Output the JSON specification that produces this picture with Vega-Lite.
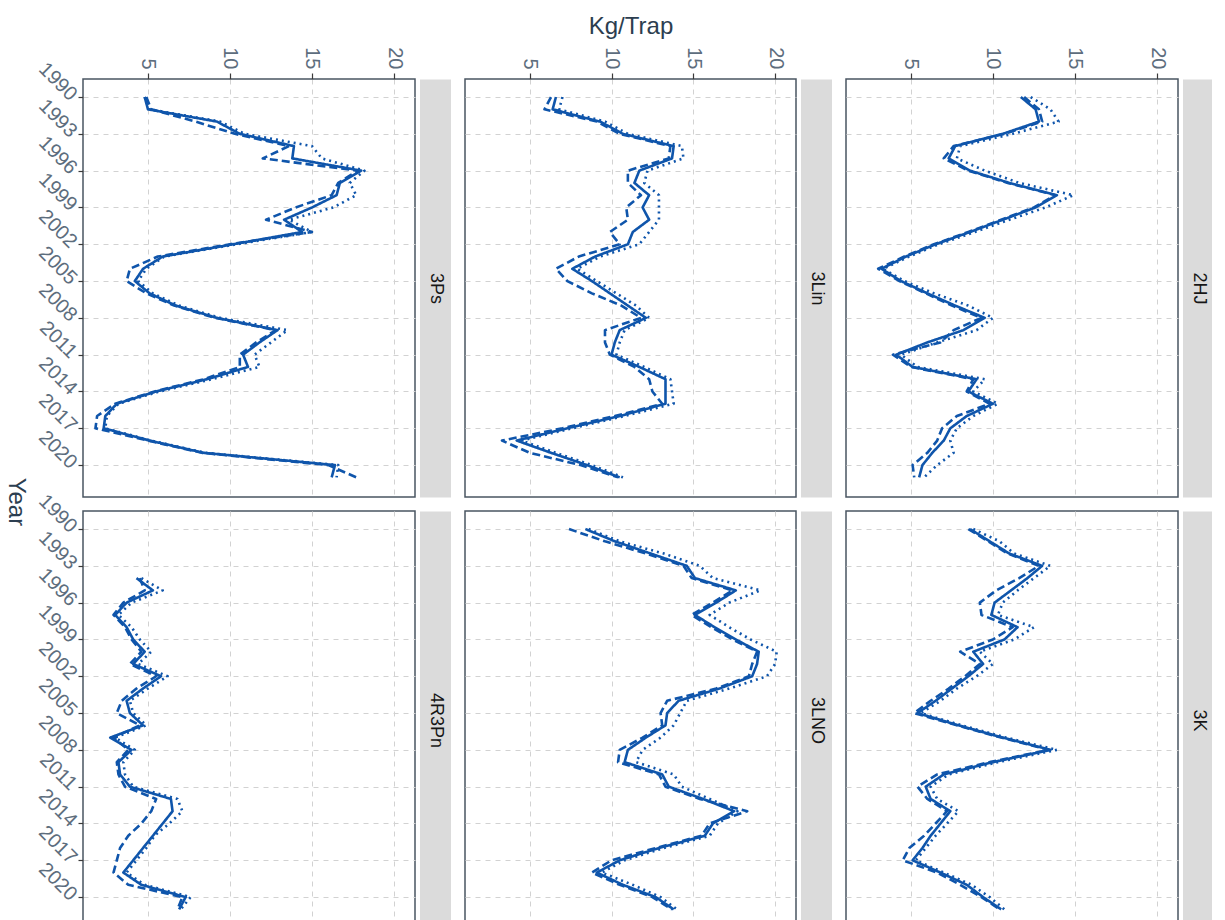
{
  "$schema": "https://vega.github.io/schema/vega-lite/v6.json",
  "padding": {"left": 3, "top": 14, "right": 4, "bottom": 0},
  "background": "white",
  "config": {
    "font": "Liberation Sans",
    "view": {"stroke": "#4a5562", "strokeWidth": 1.5},
    "axis": {"gridColor": "#d2d2d2", "gridDash": [5, 5], "gridWidth": 1, "labelFont": "Liberation Sans", "labelColor": "#5d6d7d", "labelFontSize": 20, "tickColor": "#3a3a3a", "tickWidth": 1.2, "domain": false, "labelOverlap": false},
    "axisRight": {"offset": 20, "domain": true, "domainColor": "#000000", "domainOpacity": 0.14, "domainWidth": 31, "ticks": false, "tickSize": 0, "grid": false, "title": null, "labelAngle": 90, "labelAlign": "center", "labelBaseline": "middle", "labelPadding": 0, "labelFontSize": 18, "labelColor": "#1a1a1a"},
    "line": {"color": "#0f55ab", "strokeJoin": "round"}
  },
  "title": {"text": "Year", "orient": "left", "angle": 90, "anchor": "middle", "frame": "bounds", "fontSize": 24, "fontWeight": "normal", "color": "#2c3e50", "font": "Liberation Sans", "offset": -18, "dx": 30},
  "data": {"values": [
    {"region":"3Ps","year":1990,"solid":4.8,"dashed":4.9,"dotted":4.8},
    {"region":"3Ps","year":1991,"solid":5.0,"dashed":5.2,"dotted":5.1},
    {"region":"3Ps","year":1992,"solid":9.2,"dashed":7.9,"dotted":9.4},
    {"region":"3Ps","year":1993,"solid":10.6,"dashed":10.3,"dotted":10.9},
    {"region":"3Ps","year":1994,"solid":13.9,"dashed":13.6,"dotted":15.0},
    {"region":"3Ps","year":1995,"solid":13.8,"dashed":12.0,"dotted":15.6},
    {"region":"3Ps","year":1996,"solid":18.0,"dashed":17.8,"dotted":18.2},
    {"region":"3Ps","year":1997,"solid":16.7,"dashed":16.6,"dotted":17.3},
    {"region":"3Ps","year":1998,"solid":16.5,"dashed":16.2,"dotted":17.7},
    {"region":"3Ps","year":1999,"solid":15.0,"dashed":14.0,"dotted":16.3},
    {"region":"3Ps","year":2000,"solid":13.3,"dashed":12.2,"dotted":13.6},
    {"region":"3Ps","year":2001,"solid":14.4,"dashed":15.0,"dotted":15.0},
    {"region":"3Ps","year":2002,"solid":10.2,"dashed":10.0,"dotted":10.4},
    {"region":"3Ps","year":2003,"solid":5.9,"dashed":5.6,"dotted":6.0},
    {"region":"3Ps","year":2004,"solid":4.7,"dashed":3.9,"dotted":4.9},
    {"region":"3Ps","year":2005,"solid":4.2,"dashed":3.7,"dotted":4.4},
    {"region":"3Ps","year":2006,"solid":5.1,"dashed":4.9,"dotted":5.3},
    {"region":"3Ps","year":2007,"solid":6.7,"dashed":6.6,"dotted":6.9},
    {"region":"3Ps","year":2008,"solid":9.2,"dashed":9.1,"dotted":9.4},
    {"region":"3Ps","year":2009,"solid":12.9,"dashed":12.8,"dotted":13.5},
    {"region":"3Ps","year":2010,"solid":11.8,"dashed":11.6,"dotted":12.5},
    {"region":"3Ps","year":2011,"solid":10.8,"dashed":10.6,"dotted":11.5},
    {"region":"3Ps","year":2012,"solid":11.1,"dashed":10.6,"dotted":11.8},
    {"region":"3Ps","year":2013,"solid":8.6,"dashed":8.4,"dotted":8.9},
    {"region":"3Ps","year":2014,"solid":5.5,"dashed":5.4,"dotted":5.7},
    {"region":"3Ps","year":2015,"solid":3.1,"dashed":3.0,"dotted":3.2},
    {"region":"3Ps","year":2016,"solid":2.4,"dashed":1.9,"dotted":2.5},
    {"region":"3Ps","year":2017,"solid":2.3,"dashed":1.8,"dotted":2.4},
    {"region":"3Ps","year":2018,"solid":5.1,"dashed":5.0,"dotted":5.2},
    {"region":"3Ps","year":2019,"solid":8.4,"dashed":8.3,"dotted":8.5},
    {"region":"3Ps","year":2020,"solid":16.4,"dashed":16.0,"dotted":16.6},
    {"region":"3Ps","year":2021,"solid":16.2,"dashed":17.7,"dotted":16.5},
    {"region":"3Lin","year":1990,"solid":6.6,"dashed":6.3,"dotted":7.0},
    {"region":"3Lin","year":1991,"solid":6.4,"dashed":5.9,"dotted":6.8},
    {"region":"3Lin","year":1992,"solid":9.3,"dashed":9.1,"dotted":9.6},
    {"region":"3Lin","year":1993,"solid":10.7,"dashed":10.5,"dotted":11.0},
    {"region":"3Lin","year":1994,"solid":13.8,"dashed":13.6,"dotted":14.3},
    {"region":"3Lin","year":1995,"solid":13.7,"dashed":13.5,"dotted":14.4},
    {"region":"3Lin","year":1996,"solid":11.7,"dashed":11.0,"dotted":12.2},
    {"region":"3Lin","year":1997,"solid":11.4,"dashed":11.0,"dotted":12.0},
    {"region":"3Lin","year":1998,"solid":12.3,"dashed":11.8,"dotted":12.9},
    {"region":"3Lin","year":1999,"solid":11.9,"dashed":10.9,"dotted":12.9},
    {"region":"3Lin","year":2000,"solid":12.3,"dashed":11.0,"dotted":12.9},
    {"region":"3Lin","year":2001,"solid":11.3,"dashed":9.9,"dotted":12.3},
    {"region":"3Lin","year":2002,"solid":11.0,"dashed":10.5,"dotted":11.7},
    {"region":"3Lin","year":2003,"solid":9.0,"dashed":8.0,"dotted":9.3},
    {"region":"3Lin","year":2004,"solid":7.6,"dashed":6.6,"dotted":7.9},
    {"region":"3Lin","year":2005,"solid":8.8,"dashed":7.3,"dotted":9.1},
    {"region":"3Lin","year":2006,"solid":9.9,"dashed":8.8,"dotted":10.3},
    {"region":"3Lin","year":2007,"solid":11.0,"dashed":10.6,"dotted":11.5},
    {"region":"3Lin","year":2008,"solid":12.1,"dashed":11.8,"dotted":12.3},
    {"region":"3Lin","year":2009,"solid":10.5,"dashed":9.6,"dotted":10.8},
    {"region":"3Lin","year":2010,"solid":10.2,"dashed":9.6,"dotted":10.5},
    {"region":"3Lin","year":2011,"solid":10.0,"dashed":9.9,"dotted":10.3},
    {"region":"3Lin","year":2012,"solid":11.7,"dashed":11.4,"dotted":12.0},
    {"region":"3Lin","year":2013,"solid":13.3,"dashed":12.3,"dotted":13.6},
    {"region":"3Lin","year":2014,"solid":13.3,"dashed":12.5,"dotted":13.7},
    {"region":"3Lin","year":2015,"solid":13.3,"dashed":13.1,"dotted":13.8},
    {"region":"3Lin","year":2016,"solid":10.5,"dashed":10.2,"dotted":10.8},
    {"region":"3Lin","year":2017,"solid":7.3,"dashed":7.0,"dotted":7.6},
    {"region":"3Lin","year":2018,"solid":4.2,"dashed":3.3,"dotted":4.5},
    {"region":"3Lin","year":2019,"solid":6.3,"dashed":5.0,"dotted":6.6},
    {"region":"3Lin","year":2020,"solid":8.5,"dashed":8.1,"dotted":8.8},
    {"region":"3Lin","year":2021,"solid":10.5,"dashed":10.4,"dotted":10.7},
    {"region":"2HJ","year":1990,"solid":11.7,"dashed":11.9,"dotted":12.3},
    {"region":"2HJ","year":1991,"solid":12.6,"dashed":12.8,"dotted":13.5},
    {"region":"2HJ","year":1992,"solid":12.8,"dashed":13.0,"dotted":14.0},
    {"region":"2HJ","year":1993,"solid":10.6,"dashed":10.7,"dotted":11.2},
    {"region":"2HJ","year":1994,"solid":7.7,"dashed":7.6,"dotted":8.0},
    {"region":"2HJ","year":1995,"solid":7.3,"dashed":7.0,"dotted":7.8},
    {"region":"2HJ","year":1996,"solid":8.6,"dashed":8.5,"dotted":9.5},
    {"region":"2HJ","year":1997,"solid":11.0,"dashed":10.9,"dotted":11.6},
    {"region":"2HJ","year":1998,"solid":13.9,"dashed":13.8,"dotted":14.9},
    {"region":"2HJ","year":1999,"solid":12.6,"dashed":12.5,"dotted":13.2},
    {"region":"2HJ","year":2000,"solid":10.6,"dashed":10.5,"dotted":11.0},
    {"region":"2HJ","year":2001,"solid":8.6,"dashed":8.5,"dotted":8.9},
    {"region":"2HJ","year":2002,"solid":6.5,"dashed":6.4,"dotted":6.7},
    {"region":"2HJ","year":2003,"solid":4.7,"dashed":4.6,"dotted":4.9},
    {"region":"2HJ","year":2004,"solid":3.2,"dashed":3.0,"dotted":3.3},
    {"region":"2HJ","year":2005,"solid":4.4,"dashed":4.3,"dotted":4.6},
    {"region":"2HJ","year":2006,"solid":6.0,"dashed":5.9,"dotted":6.4},
    {"region":"2HJ","year":2007,"solid":7.7,"dashed":7.5,"dotted":8.5},
    {"region":"2HJ","year":2008,"solid":9.5,"dashed":9.3,"dotted":10.0},
    {"region":"2HJ","year":2009,"solid":8.2,"dashed":7.6,"dotted":9.0},
    {"region":"2HJ","year":2010,"solid":6.0,"dashed":6.8,"dotted":6.6},
    {"region":"2HJ","year":2011,"solid":4.1,"dashed":3.9,"dotted":4.4},
    {"region":"2HJ","year":2012,"solid":5.1,"dashed":5.0,"dotted":5.4},
    {"region":"2HJ","year":2013,"solid":9.0,"dashed":8.8,"dotted":9.5},
    {"region":"2HJ","year":2014,"solid":8.5,"dashed":8.4,"dotted":8.8},
    {"region":"2HJ","year":2015,"solid":10.0,"dashed":9.8,"dotted":10.3},
    {"region":"2HJ","year":2016,"solid":8.4,"dashed":7.8,"dotted":8.8},
    {"region":"2HJ","year":2017,"solid":7.4,"dashed":6.9,"dotted":7.8},
    {"region":"2HJ","year":2018,"solid":7.0,"dashed":6.6,"dotted":7.4},
    {"region":"2HJ","year":2019,"solid":6.3,"dashed":6.0,"dotted":7.6},
    {"region":"2HJ","year":2020,"solid":5.7,"dashed":5.1,"dotted":6.6},
    {"region":"2HJ","year":2021,"solid":5.5,"dashed":5.2,"dotted":5.8},
    {"region":"4R3Pn","year":1994,"solid":4.3,"dashed":4.5,"dotted":4.6},
    {"region":"4R3Pn","year":1995,"solid":5.3,"dashed":4.8,"dotted":5.9},
    {"region":"4R3Pn","year":1996,"solid":3.7,"dashed":3.5,"dotted":4.0},
    {"region":"4R3Pn","year":1997,"solid":3.0,"dashed":2.9,"dotted":3.2},
    {"region":"4R3Pn","year":1998,"solid":3.7,"dashed":3.6,"dotted":4.0},
    {"region":"4R3Pn","year":1999,"solid":4.1,"dashed":4.0,"dotted":4.5},
    {"region":"4R3Pn","year":2000,"solid":4.8,"dashed":4.6,"dotted":5.2},
    {"region":"4R3Pn","year":2001,"solid":4.1,"dashed":3.9,"dotted":4.4},
    {"region":"4R3Pn","year":2002,"solid":5.8,"dashed":5.5,"dotted":6.2},
    {"region":"4R3Pn","year":2003,"solid":4.7,"dashed":4.3,"dotted":5.0},
    {"region":"4R3Pn","year":2004,"solid":3.7,"dashed":3.4,"dotted":3.9},
    {"region":"4R3Pn","year":2005,"solid":3.9,"dashed":3.1,"dotted":4.1},
    {"region":"4R3Pn","year":2006,"solid":4.7,"dashed":4.5,"dotted":4.9},
    {"region":"4R3Pn","year":2007,"solid":2.7,"dashed":2.9,"dotted":3.0},
    {"region":"4R3Pn","year":2008,"solid":4.0,"dashed":3.8,"dotted":4.2},
    {"region":"4R3Pn","year":2009,"solid":3.2,"dashed":3.1,"dotted":3.5},
    {"region":"4R3Pn","year":2010,"solid":3.3,"dashed":3.2,"dotted":3.6},
    {"region":"4R3Pn","year":2011,"solid":3.9,"dashed":3.6,"dotted":4.1},
    {"region":"4R3Pn","year":2012,"solid":6.4,"dashed":5.5,"dotted":6.8},
    {"region":"4R3Pn","year":2013,"solid":6.5,"dashed":5.2,"dotted":7.1},
    {"region":"4R3Pn","year":2014,"solid":5.9,"dashed":4.6,"dotted":6.3},
    {"region":"4R3Pn","year":2015,"solid":5.3,"dashed":3.8,"dotted":5.4},
    {"region":"4R3Pn","year":2016,"solid":4.7,"dashed":3.3,"dotted":4.9},
    {"region":"4R3Pn","year":2017,"solid":4.1,"dashed":3.1,"dotted":4.3},
    {"region":"4R3Pn","year":2018,"solid":3.5,"dashed":2.9,"dotted":3.7},
    {"region":"4R3Pn","year":2019,"solid":4.6,"dashed":3.8,"dotted":4.8},
    {"region":"4R3Pn","year":2020,"solid":7.3,"dashed":7.1,"dotted":7.6},
    {"region":"4R3Pn","year":2021,"solid":6.9,"dashed":6.8,"dotted":7.0},
    {"region":"3LNO","year":1990,"solid":8.4,"dashed":7.4,"dotted":8.6},
    {"region":"3LNO","year":1991,"solid":10.2,"dashed":9.6,"dotted":10.5},
    {"region":"3LNO","year":1992,"solid":12.4,"dashed":12.1,"dotted":13.2},
    {"region":"3LNO","year":1993,"solid":14.6,"dashed":14.4,"dotted":15.4},
    {"region":"3LNO","year":1994,"solid":15.1,"dashed":14.9,"dotted":16.2},
    {"region":"3LNO","year":1995,"solid":17.6,"dashed":17.4,"dotted":19.1},
    {"region":"3LNO","year":1996,"solid":16.4,"dashed":16.2,"dotted":17.2},
    {"region":"3LNO","year":1997,"solid":15.1,"dashed":14.9,"dotted":16.0},
    {"region":"3LNO","year":1998,"solid":16.3,"dashed":16.1,"dotted":17.2},
    {"region":"3LNO","year":1999,"solid":17.6,"dashed":17.4,"dotted":18.5},
    {"region":"3LNO","year":2000,"solid":19.0,"dashed":18.9,"dotted":20.1},
    {"region":"3LNO","year":2001,"solid":18.9,"dashed":18.6,"dotted":20.0},
    {"region":"3LNO","year":2002,"solid":18.6,"dashed":18.4,"dotted":19.5},
    {"region":"3LNO","year":2003,"solid":16.6,"dashed":16.4,"dotted":17.2},
    {"region":"3LNO","year":2004,"solid":14.1,"dashed":13.4,"dotted":14.6},
    {"region":"3LNO","year":2005,"solid":13.4,"dashed":13.0,"dotted":14.2},
    {"region":"3LNO","year":2006,"solid":13.3,"dashed":13.1,"dotted":13.8},
    {"region":"3LNO","year":2007,"solid":12.1,"dashed":11.9,"dotted":13.0},
    {"region":"3LNO","year":2008,"solid":11.0,"dashed":10.5,"dotted":11.9},
    {"region":"3LNO","year":2009,"solid":10.8,"dashed":10.4,"dotted":11.5},
    {"region":"3LNO","year":2010,"solid":13.1,"dashed":12.9,"dotted":13.8},
    {"region":"3LNO","year":2011,"solid":13.5,"dashed":13.3,"dotted":14.3},
    {"region":"3LNO","year":2012,"solid":15.6,"dashed":15.4,"dotted":16.0},
    {"region":"3LNO","year":2013,"solid":17.5,"dashed":18.3,"dotted":17.7},
    {"region":"3LNO","year":2014,"solid":16.2,"dashed":16.0,"dotted":16.5},
    {"region":"3LNO","year":2015,"solid":15.7,"dashed":15.5,"dotted":16.0},
    {"region":"3LNO","year":2016,"solid":12.9,"dashed":12.7,"dotted":13.2},
    {"region":"3LNO","year":2017,"solid":10.5,"dashed":10.0,"dotted":10.8},
    {"region":"3LNO","year":2018,"solid":9.1,"dashed":8.8,"dotted":9.4},
    {"region":"3LNO","year":2019,"solid":10.7,"dashed":10.5,"dotted":11.3},
    {"region":"3LNO","year":2020,"solid":12.7,"dashed":12.5,"dotted":13.0},
    {"region":"3LNO","year":2021,"solid":13.8,"dashed":13.7,"dotted":14.0},
    {"region":"3K","year":1990,"solid":8.6,"dashed":8.5,"dotted":8.8},
    {"region":"3K","year":1991,"solid":9.8,"dashed":9.7,"dotted":10.4},
    {"region":"3K","year":1992,"solid":11.0,"dashed":10.9,"dotted":11.3},
    {"region":"3K","year":1993,"solid":13.0,"dashed":12.8,"dotted":13.5},
    {"region":"3K","year":1994,"solid":12.1,"dashed":11.6,"dotted":12.5},
    {"region":"3K","year":1995,"solid":11.1,"dashed":10.2,"dotted":11.5},
    {"region":"3K","year":1996,"solid":10.1,"dashed":9.2,"dotted":10.6},
    {"region":"3K","year":1997,"solid":9.9,"dashed":9.3,"dotted":10.3},
    {"region":"3K","year":1998,"solid":11.5,"dashed":11.2,"dotted":12.5},
    {"region":"3K","year":1999,"solid":10.7,"dashed":10.0,"dotted":11.3},
    {"region":"3K","year":2000,"solid":8.8,"dashed":8.0,"dotted":9.2},
    {"region":"3K","year":2001,"solid":9.4,"dashed":9.2,"dotted":10.0},
    {"region":"3K","year":2002,"solid":8.5,"dashed":8.3,"dotted":9.0},
    {"region":"3K","year":2003,"solid":7.5,"dashed":7.3,"dotted":7.8},
    {"region":"3K","year":2004,"solid":6.5,"dashed":6.2,"dotted":6.8},
    {"region":"3K","year":2005,"solid":5.4,"dashed":5.2,"dotted":5.6},
    {"region":"3K","year":2006,"solid":7.9,"dashed":7.8,"dotted":8.1},
    {"region":"3K","year":2007,"solid":10.6,"dashed":10.5,"dotted":10.8},
    {"region":"3K","year":2008,"solid":13.5,"dashed":13.4,"dotted":13.9},
    {"region":"3K","year":2009,"solid":10.0,"dashed":9.8,"dotted":10.3},
    {"region":"3K","year":2010,"solid":7.0,"dashed":6.6,"dotted":7.3},
    {"region":"3K","year":2011,"solid":5.9,"dashed":5.4,"dotted":6.2},
    {"region":"3K","year":2012,"solid":6.2,"dashed":6.0,"dotted":6.6},
    {"region":"3K","year":2013,"solid":7.4,"dashed":7.2,"dotted":7.9},
    {"region":"3K","year":2014,"solid":6.8,"dashed":6.5,"dotted":7.2},
    {"region":"3K","year":2015,"solid":6.2,"dashed":5.8,"dotted":6.5},
    {"region":"3K","year":2016,"solid":5.7,"dashed":4.9,"dotted":5.9},
    {"region":"3K","year":2017,"solid":5.1,"dashed":4.5,"dotted":5.3},
    {"region":"3K","year":2018,"solid":6.8,"dashed":6.6,"dotted":7.0},
    {"region":"3K","year":2019,"solid":8.4,"dashed":8.0,"dotted":8.7},
    {"region":"3K","year":2020,"solid":9.4,"dashed":9.3,"dotted":9.8},
    {"region":"3K","year":2021,"solid":10.5,"dashed":10.4,"dotted":10.7}
  ]},
  "transform": [{"fold": ["dashed", "dotted", "solid"], "as": ["series", "kg"]}],
  "columns": 3,
  "bounds": "flush",
  "spacing": {"row": 14, "column": 50},
  "concat": [
    {
      "width": 332, "height": 418,
      "transform": [{"filter": "datum.region === '3Ps'"}],
      "layer": [
        {"mark": "line",
         "encoding": {
           "x": {"field": "kg", "type": "quantitative", "scale": {"domain": [1.04, 21.28], "nice": false, "zero": false}, "axis": {"orient": "top", "values": [5, 10, 15, 20], "labelAngle": 90, "labelAlign": "right", "labelBaseline": "middle", "tickSize": 6, "labelPadding": 4, "title": null}},
           "y": {"field": "year", "type": "quantitative", "scale": {"domain": [1988.53, 2022.6], "nice": false, "zero": false, "reverse": true}, "axis": {"values": [1990, 1993, 1996, 1999, 2002, 2005, 2008, 2011, 2014, 2017, 2020], "format": "d", "labelAngle": 45, "labelAlign": "right", "labelBaseline": "middle", "tickSize": 5, "labelPadding": 5, "title": null}},
           "order": {"field": "year", "type": "quantitative"},
           "strokeDash": {"field": "series", "type": "nominal", "scale": {"domain": ["dashed", "dotted", "solid"], "range": [[8, 4], [2, 4], [1, 0]]}, "legend": null},
           "strokeWidth": {"field": "series", "type": "ordinal", "scale": {"domain": ["dashed", "dotted", "solid"], "range": [2.6, 2.6, 5]}, "legend": null}
         }},
        {"mark": {"type": "point", "opacity": 0},
         "encoding": {"y": {"field": "region", "type": "nominal", "axis": {"orient": "right"}}}}
      ],
      "resolve": {"scale": {"y": "independent"}}
    },
    {
      "width": 331, "height": 418,
      "transform": [{"filter": "datum.region === '3Lin'"}],
      "layer": [
        {"mark": "line",
         "encoding": {
           "x": {"field": "kg", "type": "quantitative", "scale": {"domain": [1.04, 21.28], "nice": false, "zero": false}, "axis": {"orient": "top", "values": [5, 10, 15, 20], "labelAngle": 90, "labelAlign": "right", "labelBaseline": "middle", "tickSize": 6, "labelPadding": 4, "title": "Kg/Trap", "titleFontSize": 24, "titleFontWeight": "normal", "titleColor": "#2c3e50", "titlePadding": 8, "titleFont": "Liberation Sans"}},
           "y": {"field": "year", "type": "quantitative", "scale": {"domain": [1988.53, 2022.6], "nice": false, "zero": false, "reverse": true}, "axis": {"values": [1990, 1993, 1996, 1999, 2002, 2005, 2008, 2011, 2014, 2017, 2020], "labels": false, "ticks": false, "title": null}},
           "order": {"field": "year", "type": "quantitative"},
           "strokeDash": {"field": "series", "type": "nominal", "scale": {"domain": ["dashed", "dotted", "solid"], "range": [[8, 4], [2, 4], [1, 0]]}, "legend": null},
           "strokeWidth": {"field": "series", "type": "ordinal", "scale": {"domain": ["dashed", "dotted", "solid"], "range": [2.6, 2.6, 5]}, "legend": null}
         }},
        {"mark": {"type": "point", "opacity": 0},
         "encoding": {"y": {"field": "region", "type": "nominal", "axis": {"orient": "right"}}}}
      ],
      "resolve": {"scale": {"y": "independent"}}
    },
    {
      "width": 332, "height": 418,
      "transform": [{"filter": "datum.region === '2HJ'"}],
      "layer": [
        {"mark": "line",
         "encoding": {
           "x": {"field": "kg", "type": "quantitative", "scale": {"domain": [1.04, 21.28], "nice": false, "zero": false}, "axis": {"orient": "top", "values": [5, 10, 15, 20], "labelAngle": 90, "labelAlign": "right", "labelBaseline": "middle", "tickSize": 6, "labelPadding": 4, "title": null}},
           "y": {"field": "year", "type": "quantitative", "scale": {"domain": [1988.53, 2022.6], "nice": false, "zero": false, "reverse": true}, "axis": {"values": [1990, 1993, 1996, 1999, 2002, 2005, 2008, 2011, 2014, 2017, 2020], "labels": false, "ticks": false, "title": null}},
           "order": {"field": "year", "type": "quantitative"},
           "strokeDash": {"field": "series", "type": "nominal", "scale": {"domain": ["dashed", "dotted", "solid"], "range": [[8, 4], [2, 4], [1, 0]]}, "legend": null},
           "strokeWidth": {"field": "series", "type": "ordinal", "scale": {"domain": ["dashed", "dotted", "solid"], "range": [2.6, 2.6, 5]}, "legend": null}
         }},
        {"mark": {"type": "point", "opacity": 0},
         "encoding": {"y": {"field": "region", "type": "nominal", "axis": {"orient": "right"}}}}
      ],
      "resolve": {"scale": {"y": "independent"}}
    },
    {
      "width": 332, "height": 418,
      "transform": [{"filter": "datum.region === '4R3Pn'"}],
      "layer": [
        {"mark": "line",
         "encoding": {
           "x": {"field": "kg", "type": "quantitative", "scale": {"domain": [1.04, 21.28], "nice": false, "zero": false}, "axis": {"orient": "top", "values": [5, 10, 15, 20], "labels": false, "ticks": false, "title": null}},
           "y": {"field": "year", "type": "quantitative", "scale": {"domain": [1988.53, 2022.6], "nice": false, "zero": false, "reverse": true}, "axis": {"values": [1990, 1993, 1996, 1999, 2002, 2005, 2008, 2011, 2014, 2017, 2020], "format": "d", "labelAngle": 45, "labelAlign": "right", "labelBaseline": "middle", "tickSize": 5, "labelPadding": 5, "title": null}},
           "order": {"field": "year", "type": "quantitative"},
           "strokeDash": {"field": "series", "type": "nominal", "scale": {"domain": ["dashed", "dotted", "solid"], "range": [[8, 4], [2, 4], [1, 0]]}, "legend": null},
           "strokeWidth": {"field": "series", "type": "ordinal", "scale": {"domain": ["dashed", "dotted", "solid"], "range": [2.6, 2.6, 5]}, "legend": null}
         }},
        {"mark": {"type": "point", "opacity": 0},
         "encoding": {"y": {"field": "region", "type": "nominal", "axis": {"orient": "right"}}}}
      ],
      "resolve": {"scale": {"y": "independent"}}
    },
    {
      "width": 331, "height": 418,
      "transform": [{"filter": "datum.region === '3LNO'"}],
      "layer": [
        {"mark": "line",
         "encoding": {
           "x": {"field": "kg", "type": "quantitative", "scale": {"domain": [1.04, 21.28], "nice": false, "zero": false}, "axis": {"orient": "top", "values": [5, 10, 15, 20], "labels": false, "ticks": false, "title": null}},
           "y": {"field": "year", "type": "quantitative", "scale": {"domain": [1988.53, 2022.6], "nice": false, "zero": false, "reverse": true}, "axis": {"values": [1990, 1993, 1996, 1999, 2002, 2005, 2008, 2011, 2014, 2017, 2020], "labels": false, "ticks": false, "title": null}},
           "order": {"field": "year", "type": "quantitative"},
           "strokeDash": {"field": "series", "type": "nominal", "scale": {"domain": ["dashed", "dotted", "solid"], "range": [[8, 4], [2, 4], [1, 0]]}, "legend": null},
           "strokeWidth": {"field": "series", "type": "ordinal", "scale": {"domain": ["dashed", "dotted", "solid"], "range": [2.6, 2.6, 5]}, "legend": null}
         }},
        {"mark": {"type": "point", "opacity": 0},
         "encoding": {"y": {"field": "region", "type": "nominal", "axis": {"orient": "right"}}}}
      ],
      "resolve": {"scale": {"y": "independent"}}
    },
    {
      "width": 332, "height": 418,
      "transform": [{"filter": "datum.region === '3K'"}],
      "layer": [
        {"mark": "line",
         "encoding": {
           "x": {"field": "kg", "type": "quantitative", "scale": {"domain": [1.04, 21.28], "nice": false, "zero": false}, "axis": {"orient": "top", "values": [5, 10, 15, 20], "labels": false, "ticks": false, "title": null}},
           "y": {"field": "year", "type": "quantitative", "scale": {"domain": [1988.53, 2022.6], "nice": false, "zero": false, "reverse": true}, "axis": {"values": [1990, 1993, 1996, 1999, 2002, 2005, 2008, 2011, 2014, 2017, 2020], "labels": false, "ticks": false, "title": null}},
           "order": {"field": "year", "type": "quantitative"},
           "strokeDash": {"field": "series", "type": "nominal", "scale": {"domain": ["dashed", "dotted", "solid"], "range": [[8, 4], [2, 4], [1, 0]]}, "legend": null},
           "strokeWidth": {"field": "series", "type": "ordinal", "scale": {"domain": ["dashed", "dotted", "solid"], "range": [2.6, 2.6, 5]}, "legend": null}
         }},
        {"mark": {"type": "point", "opacity": 0},
         "encoding": {"y": {"field": "region", "type": "nominal", "axis": {"orient": "right"}}}}
      ],
      "resolve": {"scale": {"y": "independent"}}
    }
  ]
}
